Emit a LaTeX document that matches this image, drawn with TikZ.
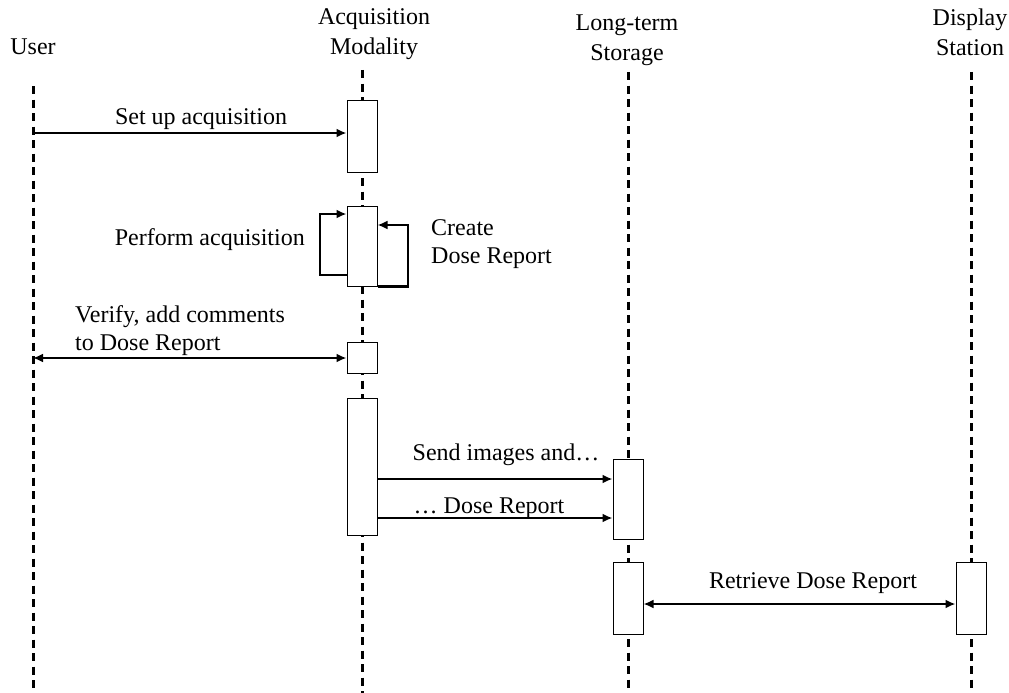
\documentclass[tikz,border=0pt]{standalone}
\usepackage{fontspec}
\setmainfont{Liberation Serif}
\usetikzlibrary{arrows.meta}
\begin{document}
\begin{tikzpicture}[x=1pt,y=-1pt,
  lbl/.style={font=\fontsize{24}{28}\selectfont, inner sep=0pt, anchor=base},
  head/.style={font=\fontsize{24}{30}\selectfont, inner sep=0pt, align=center, anchor=base},
  life/.style={line width=3pt, dash pattern=on 8pt off 5.5pt},
  act/.style={draw, fill=white, line width=1pt, minimum width=30pt, inner sep=0pt},
  msg/.style={line width=2.3pt, -{Latex[length=10pt,width=9pt]}},
  dmsg/.style={line width=2.3pt, {Latex[length=10pt,width=9pt]}-{Latex[length=10pt,width=9pt]}},
  loop/.style={line width=2.3pt, -{Latex[length=10pt,width=9pt]}}]
\useasboundingbox (0,0) rectangle (1009,693);
% headers
\node[head] (hU) at (33,55) {User};
\node[head] (hA) at (374,55) {Acquisition\\Modality};
\node[head] (hL) at (627,60) {Long-term\\Storage};
\node[head] (hD) at (970,56) {Display\\Station};
% lifelines
\coordinate (uT) at (33,86); \coordinate (uB) at (33,693);
\coordinate (aT) at (362,70); \coordinate (aB) at (362,693);
\coordinate (lT) at (628,72); \coordinate (lB) at (628,693);
\coordinate (dT) at (971,72); \coordinate (dB) at (971,693);
\draw[life] (uT) -- (uB);
\draw[life] (aT) -- (aB);
\draw[life] (lT) -- (lB);
\draw[life] (dT) -- (dB);
% activation boxes
\node[act, minimum height=72pt] (a1) at (362,136) {};
\node[act, minimum height=80pt] (a2) at (362,246) {};
\node[act, minimum height=31pt] (a3) at (362,357.5) {};
\node[act, minimum height=137pt] (a4) at (362,466.5) {};
\node[act, minimum height=80pt] (l1) at (628,499) {};
\node[act, minimum height=72pt] (l2) at (628,598) {};
\node[act, minimum height=72pt] (d1) at (971,598) {};
% messages
\coordinate (m1) at (33,133);
\draw[msg] (m1) -- (a1.west |- m1);
\node[lbl] (t1) at (201,124) {Set up acquisition};
% self loops
\coordinate (p1) at (320,275);
\coordinate (p2) at (320,214);
\draw[loop] (a2.west |- p1) -- (p1) -- (p2) -- (a2.west |- p2);
\node[lbl, anchor=base east] (t2) at (305,245) {Perform acquisition};
\coordinate (cx) at (408,0);
\coordinate (c2) at (408,225);
\draw[loop] (a2.south east) -- (cx |- a2.south) -- (c2) -- (a2.east |- c2);
\node[lbl, anchor=base west, align=left] (t3) at (431,263) {Create\\Dose Report};
% verify
\coordinate (v1) at (33,358);
\draw[dmsg] (v1) -- (a3.west |- v1);
\node[lbl, anchor=base west, align=left] (t4) at (75,350) {Verify, add comments\\to Dose Report};
% send
\coordinate (s1) at (362,479);
\draw[msg] (a4.east |- s1) -- (l1.west |- s1);
\node[lbl] (t5) at (506,460) {Send images and…};
\coordinate (s2) at (362,518);
\draw[msg] (a4.east |- s2) -- (l1.west |- s2);
\node[lbl] (t6) at (489,513) {… Dose Report};
% retrieve
\coordinate (r1) at (628,604);
\draw[dmsg] (l2.east |- r1) -- (d1.west |- r1);
\node[lbl] (t7) at (813,588) {Retrieve Dose Report};
\end{tikzpicture}
\end{document}
